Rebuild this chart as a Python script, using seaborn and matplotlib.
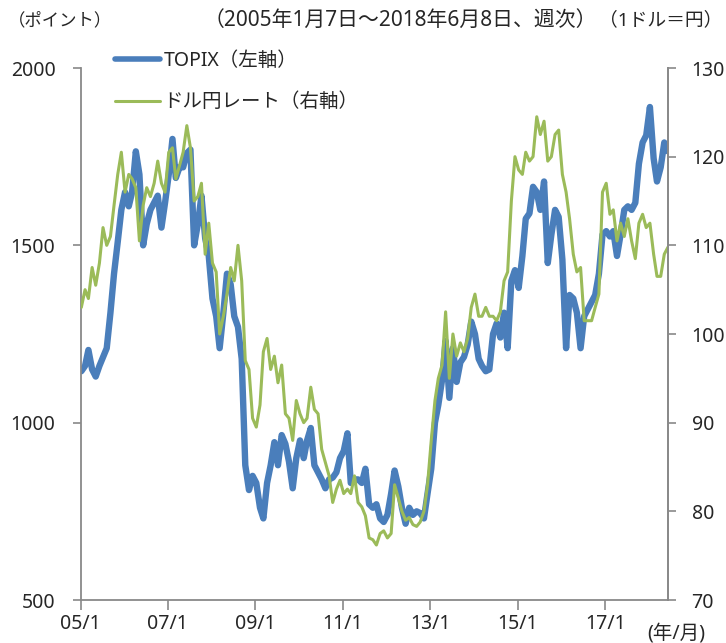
import numpy as np
import pandas as pd
import matplotlib
matplotlib.use("Agg")
import matplotlib.pyplot as plt
import seaborn as sns
from matplotlib.lines import Line2D

sns.set_style("white")
plt.rcParams['font.family'] = ['Noto Sans', 'Noto Sans CJK JP']

# ---- data (monthly readings, Jan 2005 - Jun 2018) ----
topix = [
    1145, 1160, 1205, 1150, 1130, 1160, 1185, 1210, 1310, 1420, 1510, 1600,   # 2005
    1650, 1610, 1650, 1765, 1700, 1500, 1560, 1600, 1620, 1640, 1550, 1620,   # 2006
    1700, 1800, 1690, 1720, 1720, 1760, 1770, 1500, 1560, 1640, 1520, 1470,   # 2007
    1350, 1300, 1210, 1310, 1420, 1390, 1300, 1270, 1180, 880, 810, 850,      # 2008
    830, 760, 730, 830, 880, 945, 880, 965, 940, 890, 815, 900,               # 2009
    950, 900, 950, 985, 880, 860, 840, 815, 840, 845, 860, 900,               # 2010
    920, 970, 830, 840, 840, 830, 870, 770, 760, 770, 730, 720,               # 2011
    740, 800, 865, 820, 760, 715, 760, 740, 750, 745, 730, 800,               # 2012
    870, 1000, 1050, 1120, 1230, 1070, 1210, 1115, 1170, 1185, 1220, 1285,    # 2013
    1250, 1180, 1160, 1145, 1150, 1250, 1280, 1240, 1310, 1210, 1400, 1430,   # 2014
    1380, 1470, 1575, 1590, 1665, 1650, 1600, 1680, 1450, 1530, 1600, 1580,   # 2015
    1460, 1210, 1360, 1350, 1310, 1210, 1300, 1320, 1340, 1360, 1420, 1530,   # 2016
    1540, 1525, 1540, 1470, 1530, 1600, 1610, 1600, 1620, 1730, 1790, 1810,   # 2017
    1890, 1745, 1680, 1720, 1790, 1765,                                       # 2018
]
usdjpy = [
    103.0, 105.0, 104.0, 107.5, 105.5, 108.0, 112.0, 110.0, 111.0, 114.5, 118.0, 120.5,  # 2005
    116.0, 118.0, 117.5, 116.5, 110.5, 114.5, 116.5, 115.5, 117.0, 119.5, 117.0, 116.0,  # 2006
    120.5, 121.0, 117.5, 119.0, 120.5, 123.5, 121.0, 115.0, 115.5, 117.0, 109.0, 112.5,  # 2007
    108.0, 107.0, 100.0, 102.0, 104.5, 107.5, 106.0, 110.0, 106.0, 97.0, 96.0, 90.5,     # 2008
    89.5, 92.0, 98.0, 99.5, 96.0, 97.5, 94.5, 96.5, 91.0, 90.5, 88.0, 92.5,              # 2009
    91.0, 90.0, 90.5, 94.0, 91.5, 91.0, 87.0, 85.5, 84.0, 81.0, 82.5, 83.5,              # 2010
    82.0, 82.5, 82.0, 84.0, 81.0, 80.5, 79.5, 77.0, 76.8, 76.2, 77.5, 77.8,              # 2011
    77.0, 77.5, 83.0, 81.5, 80.0, 79.0, 79.3, 78.5, 78.3, 78.8, 80.0, 83.0,              # 2012
    88.0, 92.5, 95.0, 96.5, 102.5, 95.0, 100.0, 97.5, 99.0, 98.0, 99.5, 103.0,           # 2013
    104.5, 102.0, 102.0, 103.0, 102.0, 102.0, 101.5, 102.5, 106.0, 107.0, 115.0, 120.0,  # 2014
    118.5, 118.0, 120.5, 119.5, 120.0, 124.5, 122.5, 124.0, 119.5, 120.0, 122.5, 123.0,  # 2015
    118.0, 116.0, 113.0, 109.0, 107.0, 107.5, 101.5, 101.5, 101.5, 103.0, 104.5, 116.0,  # 2016
    117.0, 113.5, 114.0, 110.5, 112.5, 111.0, 113.0, 110.5, 108.5, 112.5, 113.5, 112.0,  # 2017
    112.5, 109.0, 106.5, 106.5, 109.0, 109.8,                                            # 2018
]
dates = pd.date_range("2005-01-01", "2018-06-01", freq="MS") + pd.Timedelta(days=7)

left_ticks = [500, 1000, 1500, 2000]
right_ticks = [70, 80, 90, 100, 110, 120, 130]
x_tick_dates = pd.to_datetime(["2005-01-01", "2007-01-01", "2009-01-01", "2011-01-01",
                               "2013-01-01", "2015-01-01", "2017-01-01"])
x_tick_labels = ["05/1", "07/1", "09/1", "11/1", "13/1", "15/1", "17/1"]

df = pd.DataFrame({"date": dates, "topix": topix, "usdjpy": usdjpy})

# ---- figure ----
W, H = 726, 643
fig = plt.figure(figsize=(W / 100, H / 100), dpi=100)
ax = fig.add_axes([80.5 / W, 1 - 600 / H, (668 - 80.5) / W, (600 - 68) / H])
ax2 = ax.twinx()

blue = "#4a7ebb"
green = "#9bbb59"
spine_c = "#898989"
fs = 14

sns.lineplot(data=df, x="date", y="topix", ax=ax, color=blue, linewidth=4.6, legend=False)
sns.lineplot(data=df, x="date", y="usdjpy", ax=ax2, color=green, linewidth=2.2, legend=False)

ax.set_xlim(pd.Timestamp("2005-01-01"), pd.Timestamp("2018-06-08"))
ax.set_ylim(500, 2000)
ax2.set_ylim(70, 130)
ax.set_yticks(left_ticks)
ax.set_yticklabels([str(v) for v in left_ticks])
ax2.set_yticks(right_ticks)
ax2.set_yticklabels([str(v) for v in right_ticks])
ax.set_xticks(x_tick_dates)
ax.set_xticklabels(x_tick_labels)
ax.set_xlabel("")
ax.set_ylabel("")
ax2.set_ylabel("")

for a in (ax, ax2):
    a.spines["top"].set_visible(False)
    for s in ("left", "right", "bottom"):
        a.spines[s].set_color(spine_c)
        a.spines[s].set_linewidth(1.3)
    a.grid(False)

ax.tick_params(axis="y", which="both", direction="out", length=6, width=1.2,
               color=spine_c, labelsize=fs, pad=12, left=True, right=False)
ax.tick_params(axis="x", direction="out", length=7, width=1.2, color=spine_c,
               labelsize=fs, pad=3, bottom=True)
ax2.tick_params(axis="y", direction="out", length=6, width=1.2, color=spine_c,
                labelsize=fs, pad=11, right=True, left=False)
ax2.spines["left"].set_visible(False)
ax2.spines["bottom"].set_visible(False)

# ---- texts ----
jp = ['Noto Sans', 'Noto Sans CJK JP']
fig.text(8 / W, 1 - 20 / H, "（ポイント）", ha="left", va="center", fontsize=12.5, family=jp)
fig.text(597 / W, 1 - 20 / H, "（2005年1月7日～2018年6月8日、週次）",
         ha="right", va="center", fontsize=15, family=jp)
fig.text(722 / W, 1 - 20 / H, "（1ドル＝円）",
         ha="right", va="center", fontsize=13.5, family=jp)
fig.text(705 / W, 1 - 633 / H, "(年/月)", ha="right", va="center", fontsize=14, family=jp)

handles = [Line2D([], [], color=blue, linewidth=4.0),
           Line2D([], [], color=green, linewidth=2.2)]
leg = fig.legend(handles, ["TOPIX（左軸）", "ドル円レート（右軸）"],
                 loc="upper left", bbox_to_anchor=(115 / W, 1 - 51 / H),
                 frameon=False, handlelength=2.3, handletextpad=0.2,
                 labelspacing=1.1, borderpad=0, borderaxespad=0,
                 prop={"family": jp, "size": 14})

fig.savefig("out.png", dpi=100)
